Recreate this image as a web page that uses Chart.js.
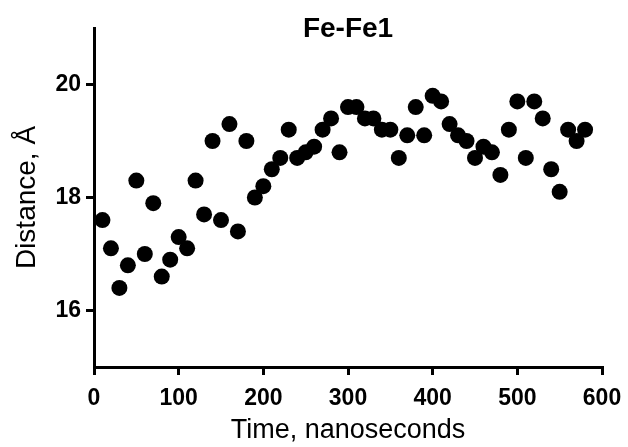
<!DOCTYPE html>
<html>
<head>
<meta charset="utf-8">
<script src="https://cdn.jsdelivr.net/npm/chart.js@4/dist/chart.umd.min.js"></script>
<style>
  html, body { margin: 0; padding: 0; background: #fff; }
  #wrap { width: 628px; height: 447px; }
</style>
</head>
<body>
<div id="wrap"><canvas id="distChart"></canvas></div>
<script>
const chartTitle = "Fe-Fe1";
const xTitle = "Time, nanoseconds";
const yTitle = "Distance, Å";

// time (ns) and Fe-Fe distance (Å)
const times = [10, 20, 30, 40, 50, 60, 70, 80, 90, 100,
  110, 120, 130, 140, 150, 160, 170, 180, 190, 200,
  210, 220, 230, 240, 250, 260, 270, 280, 290, 300,
  310, 320, 330, 340, 350, 360, 370, 380, 390, 400,
  410, 420, 430, 440, 450, 460, 470, 480, 490, 500,
  510, 520, 530, 540, 550, 560, 570, 580];
const distances = [17.6, 17.1, 16.4, 16.8, 18.3, 17.0, 17.9, 16.6, 16.9, 17.3,
  17.1, 18.3, 17.7, 19.0, 17.6, 19.3, 17.4, 19.0, 18.0, 18.2,
  18.5, 18.7, 19.2, 18.7, 18.8, 18.9, 19.2, 19.4, 18.8, 19.6,
  19.6, 19.4, 19.4, 19.2, 19.2, 18.7, 19.1, 19.6, 19.1, 19.8,
  19.7, 19.3, 19.1, 19.0, 18.7, 18.9, 18.8, 18.4, 19.2, 19.7,
  18.7, 19.7, 19.4, 18.5, 18.1, 19.2, 19.0, 19.2];

const yTicks = [16, 18, 20];
const xTicks = [0, 100, 200, 300, 400, 500, 600];

const fontFamily = "'Liberation Sans', Arial, sans-serif";

const points = times.map((t, i) => ({ x: t, y: distances[i] }));

// title sits over the top of the plot, so draw it by hand
const titlePlugin = {
  id: "topTitle",
  afterDraw(chart) {
    const ctx = chart.ctx;
    const area = chart.chartArea;
    ctx.save();
    ctx.font = "bold 28px " + fontFamily;
    ctx.fillStyle = "#000";
    ctx.textAlign = "center";
    ctx.textBaseline = "alphabetic";
    ctx.fillText(chartTitle, (area.left + area.right) / 2, 37);
    ctx.restore();
  }
};

const axisGrid = {
  display: true,
  drawOnChartArea: false,
  drawTicks: true,
  tickLength: 8,
  lineWidth: 3,
  color: "#000"
};

new Chart(document.getElementById("distChart"), {
  type: "scatter",
  data: {
    datasets: [{
      data: points,
      backgroundColor: "#000",
      borderColor: "#000",
      borderWidth: 0,
      pointRadius: 8,
      pointHoverRadius: 8
    }]
  },
  options: {
    responsive: true,
    maintainAspectRatio: false,
    animation: false,
    layout: { padding: { top: 28, right: 26, left: 0, bottom: 0 } },
    plugins: {
      legend: { display: false },
      tooltip: { enabled: false }
    },
    scales: {
      x: {
        type: "linear",
        min: 0,
        max: 600,
        grid: axisGrid,
        border: { display: true, width: 3, color: "#000" },
        afterBuildTicks: (scale) => { scale.ticks = xTicks.map(v => ({ value: v })); },
        afterFit: (scale) => {
          scale.height = 80;
          scale.paddingLeft = 0;
          scale.paddingRight = 0;
        },
        ticks: {
          color: "#000",
          padding: 10,
          maxRotation: 0,
          font: { family: fontFamily, size: 23, weight: "bold" }
        },
        title: {
          display: true,
          text: xTitle,
          color: "#000",
          padding: { top: 0, bottom: 0 },
          font: { family: fontFamily, size: 27 }
        }
      },
      y: {
        type: "linear",
        min: 15,
        max: 21,
        grid: axisGrid,
        border: { display: true, width: 3, color: "#000" },
        afterBuildTicks: (scale) => { scale.ticks = yTicks.map(v => ({ value: v })); },
        afterFit: (scale) => { scale.width = 94; },
        ticks: {
          color: "#000",
          padding: 5,
          font: { family: fontFamily, size: 23, weight: "bold" }
        },
        title: {
          display: true,
          text: yTitle,
          color: "#000",
          padding: { top: 10, bottom: 0 },
          font: { family: fontFamily, size: 28 }
        }
      }
    }
  },
  plugins: [titlePlugin]
});
</script>
</body>
</html>
